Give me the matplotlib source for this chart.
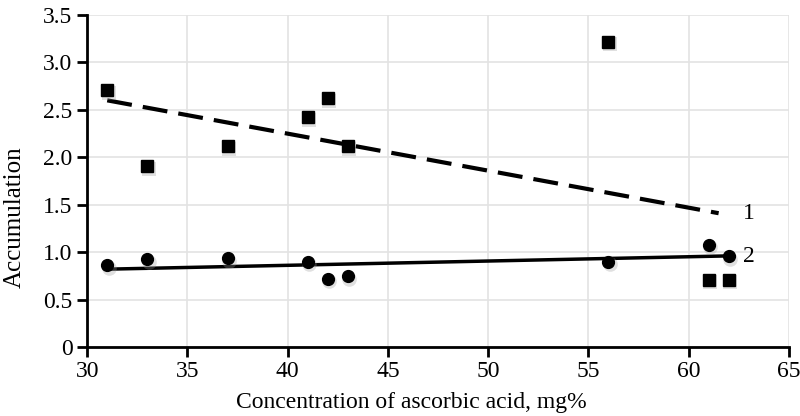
import matplotlib
matplotlib.use("Agg")
import matplotlib.pyplot as plt

plt.rcParams['font.family'] = ['Liberation Serif', 'DejaVu Serif']
plt.rcParams['lines.scale_dashes'] = False

# data
conc = [31, 33, 37, 41, 42, 43, 56, 61, 62]
accum_1 = [2.71, 1.91, 2.12, 2.42, 2.62, 2.12, 3.22, 0.71, 0.71]
accum_2 = [0.86, 0.93, 0.94, 0.90, 0.72, 0.75, 0.90, 1.08, 0.96]

trend_1_x = [31, 61.5]
trend_1_y = [2.60, 1.41]
trend_2_x = [31, 62]
trend_2_y = [0.82, 0.96]

xticks = [30, 35, 40, 45, 50, 55, 60, 65]
yticks = [0, 0.5, 1.0, 1.5, 2.0, 2.5, 3.0, 3.5]
ytick_labels = ['0', '0.5', '1.0', '1.5', '2.0', '2.5', '3.0', '3.5']

fig = plt.figure(figsize=(8, 4.16), dpi=100)
ax = fig.add_axes([0.109, 0.166, 0.877, 0.798])

ax.grid(True, color='#e3e3e3', linewidth=1.2, zorder=0)
ax.set_axisbelow(True)

ax.plot(trend_1_x, trend_1_y, color='black', linewidth=3, dashes=(18, 8), zorder=2)
ax.plot(trend_2_x, trend_2_y, color='black', linewidth=2.5, zorder=2)

# soft shadow under markers
ax.plot([x + 0.08 for x in conc], [y - 0.03 for y in accum_1], 's', color='#999999',
        markersize=10, alpha=0.3, markeredgewidth=0, zorder=2)
ax.plot([x + 0.08 for x in conc], [y - 0.03 for y in accum_2], 'o', color='#999999',
        markersize=10.5, alpha=0.3, markeredgewidth=0, zorder=2)
ax.plot(conc, accum_1, 's', color='black', markersize=8, zorder=3)
ax.plot(conc, accum_2, 'o', color='black', markersize=8.5, zorder=3)

ax.text(62.7, 1.41, '1', fontsize=17, ha='left', va='center')
ax.text(62.7, 0.95, '2', fontsize=17, ha='left', va='center')

ax.set_xlim(30, 65)
ax.set_ylim(0, 3.5)
ax.set_xticks(xticks)
ax.set_yticks(yticks)
ax.set_yticklabels(ytick_labels)
ax.tick_params(axis='both', labelsize=17, width=2, length=7, direction='out', color='black')
ax.tick_params(axis='x', pad=3)

for s in ['top', 'right']:
    ax.spines[s].set_visible(False)
for s in ['left', 'bottom']:
    ax.spines[s].set_linewidth(2)
    ax.spines[s].set_color('black')

ax.set_xlabel('Concentration of ascorbic acid, mg%', fontsize=17)
ax.set_ylabel('Accumulation', fontsize=18)
# labels sit a bit off-centre in the original
ax.xaxis.set_label_coords(0.462, -0.135)
ax.yaxis.set_label_coords(-0.087, 0.39)

fig.savefig('out.png', dpi=100)
